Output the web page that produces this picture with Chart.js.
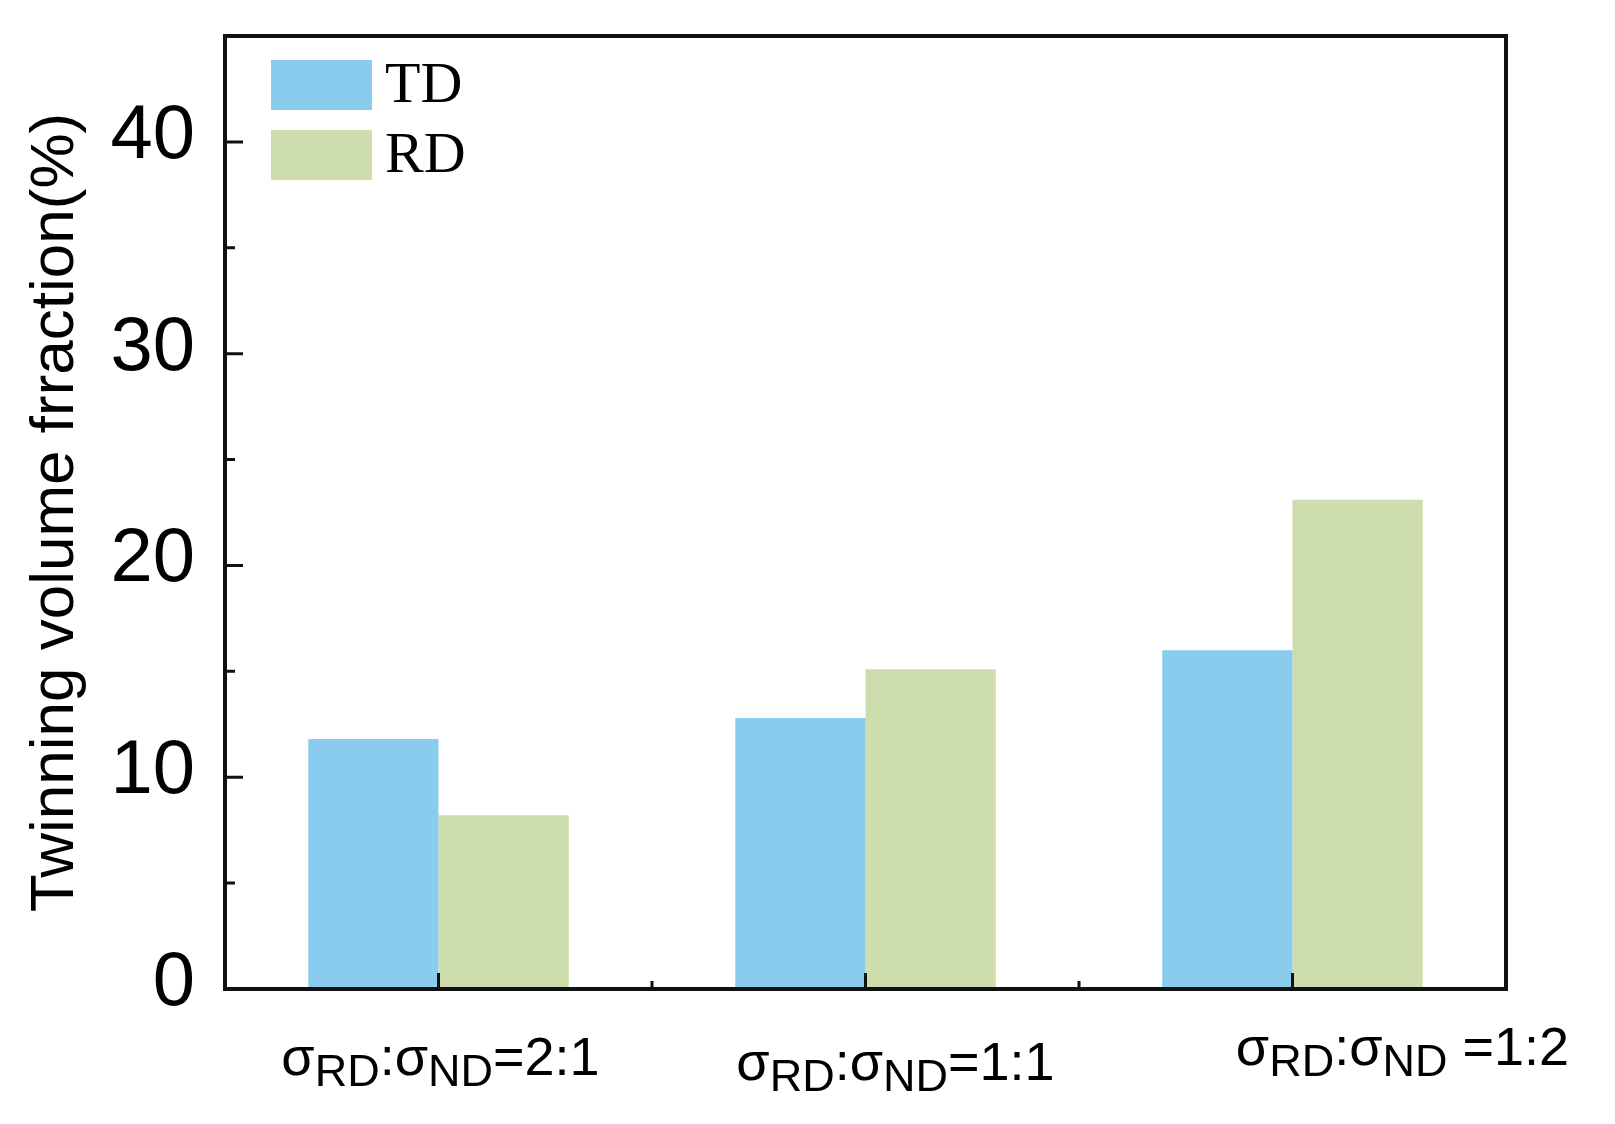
<!DOCTYPE html>
<html>
<head>
<meta charset="utf-8">
<script src="https://cdn.jsdelivr.net/npm/chart.js@4.4.0/dist/chart.umd.min.js"></script>
<style>
  html, body { margin: 0; padding: 0; background: #fff; }
  #wrap { width: 1615px; height: 1124px; position: relative; }
</style>
</head>
<body>
<div id="wrap"><canvas id="myChart"></canvas></div>
<script>
// data
var categories = ['σ{RD}:σ{ND}=2:1', 'σ{RD}:σ{ND}=1:1', 'σ{RD}:σ{ND} =1:2'];
var seriesNames = ['TD', 'RD'];
var tdValues = [11.8, 12.8, 16.0];
var rdValues = [8.2, 15.1, 23.1];
var yMajorTicks = [0, 10, 20, 30, 40];
var yMinorTicks = [5, 15, 25, 35];
var yTitle = 'Twinning volume frraction(%)';

var colors = ['rgb(137, 204, 238)', 'rgb(205, 221, 172)'];

// hand placement of the category labels in the original (dx from tick, dy below axis)
var labelNudge = [[2, 86], [30, 91], [110, 76]];

// split "σ{RD}" style strings into normal / subscript pieces
function splitLabel(s) {
  var parts = [];
  var re = /([^{]+)|\{([^}]*)\}/g, m;
  while ((m = re.exec(s)) !== null) {
    if (m[1]) parts.push({ t: m[1], sub: false });
    else parts.push({ t: m[2], sub: true });
  }
  return parts;
}

var mainFont = '54px "Liberation Sans", Arial, sans-serif';
var subFont = '45px "Liberation Sans", Arial, sans-serif';

var decorations = {
  id: 'decorations',
  afterDatasetsDraw: function(chart) {
    var ctx = chart.ctx;
    var a = chart.chartArea;
    var x = chart.scales.x, y = chart.scales.y;
    ctx.save();
    ctx.strokeStyle = '#111';
    ctx.lineCap = 'butt';

    // frame
    ctx.lineWidth = 4;
    ctx.strokeRect(a.left, a.top, a.right - a.left, a.bottom - a.top);

    // inward ticks
    ctx.lineWidth = 3;
    ctx.beginPath();
    yMajorTicks.forEach(function(v) {
      var py = y.getPixelForValue(v);
      ctx.moveTo(a.left, py); ctx.lineTo(a.left + 18, py);
    });
    yMinorTicks.forEach(function(v) {
      var py = y.getPixelForValue(v);
      ctx.moveTo(a.left, py); ctx.lineTo(a.left + 10, py);
    });
    for (var i = 0; i < categories.length; i++) {
      var px = x.getPixelForValue(i);
      ctx.moveTo(px, a.bottom); ctx.lineTo(px, a.bottom - 16);
      if (i < categories.length - 1) {
        var mid = (px + x.getPixelForValue(i + 1)) / 2;
        ctx.moveTo(mid, a.bottom); ctx.lineTo(mid, a.bottom - 8);
      }
    }
    ctx.stroke();

    // category labels with subscripts
    ctx.fillStyle = '#000';
    ctx.textBaseline = 'alphabetic';
    ctx.textAlign = 'left';
    categories.forEach(function(c, i) {
      var parts = splitLabel(c);
      var w = 0;
      parts.forEach(function(p) {
        ctx.font = p.sub ? subFont : mainFont;
        p.w = ctx.measureText(p.t).width;
        w += p.w;
      });
      var cx = x.getPixelForValue(i) + labelNudge[i][0];
      var base = a.bottom + labelNudge[i][1];
      var px = cx - w / 2;
      parts.forEach(function(p) {
        ctx.font = p.sub ? subFont : mainFont;
        ctx.fillText(p.t, px, p.sub ? base + 11 : base);
        px += p.w;
      });
    });

    // legend in the upper left corner
    ctx.font = '58px "Liberation Serif", "Times New Roman", serif';
    chart.data.datasets.forEach(function(ds, i) {
      var bx = a.left + 46, by = a.top + 24 + i * 70;
      ctx.fillStyle = ds.backgroundColor;
      ctx.fillRect(bx, by, 101, 50);
      ctx.fillStyle = '#000';
      ctx.fillText(ds.label, bx + 114, by + 42);
    });
    ctx.restore();
  }
};

Chart.defaults.font.family = '"Liberation Sans", Arial, sans-serif';
Chart.defaults.color = '#000';

var ctx = document.getElementById('myChart').getContext('2d');
var myChart = new Chart(ctx, {
  type: 'bar',
  data: {
    labels: categories,
    datasets: [
      { label: seriesNames[0], data: tdValues, backgroundColor: colors[0] },
      { label: seriesNames[1], data: rdValues, backgroundColor: colors[1] }
    ]
  },
  options: {
    responsive: true,
    maintainAspectRatio: false,
    animation: false,
    layout: { padding: { top: 36, right: 109, left: 0, bottom: 0 } },
    datasets: { bar: { categoryPercentage: 0.61, barPercentage: 1.0, borderWidth: 0 } },
    plugins: {
      legend: { display: false },
      tooltip: { enabled: false }
    },
    scales: {
      x: {
        grid: { display: false },
        border: { display: false },
        ticks: { display: false },
        afterFit: function(scale) { scale.height = 135; scale.paddingLeft = 0; scale.paddingRight = 0; }
      },
      y: {
        min: 0,
        max: 45,
        grid: { display: false },
        border: { display: false },
        ticks: {
          stepSize: 10,
          includeBounds: false,
          padding: 22,
          labelOffset: -5,
          font: { size: 76 },
          callback: function(v) { return yMajorTicks.indexOf(v) >= 0 ? v : ''; }
        },
        title: {
          display: true,
          text: yTitle,
          font: { size: 62 },
          padding: { top: 19, bottom: 0 }
        },
        afterFit: function(scale) { scale.width = 225; scale.paddingTop = 0; scale.paddingBottom = 0; }
      }
    }
  },
  plugins: [decorations]
});
</script>
</body>
</html>
